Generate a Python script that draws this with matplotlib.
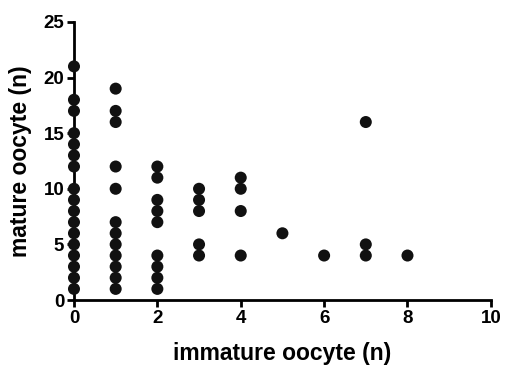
import matplotlib
matplotlib.use("Agg")
import matplotlib.pyplot as plt

plt.rcParams['font.family'] = ['Liberation Sans', 'DejaVu Sans']

x0 = [0]*17
y0 = [1, 2, 3, 4, 5, 6, 7, 8, 9, 10, 12, 13, 14, 15, 17, 18, 21]
x1 = [1]*12
y1 = [1, 2, 3, 4, 5, 6, 7, 10, 12, 16, 17, 19]
x2 = [2]*9
y2 = [1, 2, 3, 4, 7, 8, 9, 11, 12]
x3 = [3]*5
y3 = [4, 5, 8, 9, 10]
x4 = [4]*4
y4 = [4, 8, 10, 11]
x_rest = [5, 6, 7, 7, 7, 8]
y_rest = [6, 4, 4, 5, 16, 4]

xs = x0 + x1 + x2 + x3 + x4 + x_rest
ys = y0 + y1 + y2 + y3 + y4 + y_rest

xticks = [0, 2, 4, 6, 8, 10]
yticks = [0, 5, 10, 15, 20, 25]

fig = plt.figure(figsize=(5.05, 3.65), dpi=100)
ax = fig.add_axes([0.1465, 0.178, 0.8255, 0.762])
ax.scatter(xs, ys, s=75, c='#111111', edgecolors='none', clip_on=False, zorder=3)
ax.set_xlim(0, 10)
ax.set_ylim(0, 25)
ax.set_xticks(xticks)
ax.set_yticks(yticks)
for s in ['top', 'right']:
    ax.spines[s].set_visible(False)
for s in ['left', 'bottom']:
    ax.spines[s].set_linewidth(2)
ax.tick_params(width=2, length=5, direction='out', labelsize=13.5, pad=2)
for lab in ax.get_xticklabels() + ax.get_yticklabels():
    lab.set_fontweight('bold')
ax.set_xlabel('immature oocyte (n)', fontsize=16.5, fontweight='bold', labelpad=11)
ax.set_ylabel('mature oocyte (n)', fontsize=16.5, fontweight='bold', labelpad=8)
fig.savefig('out.png', dpi=100)
